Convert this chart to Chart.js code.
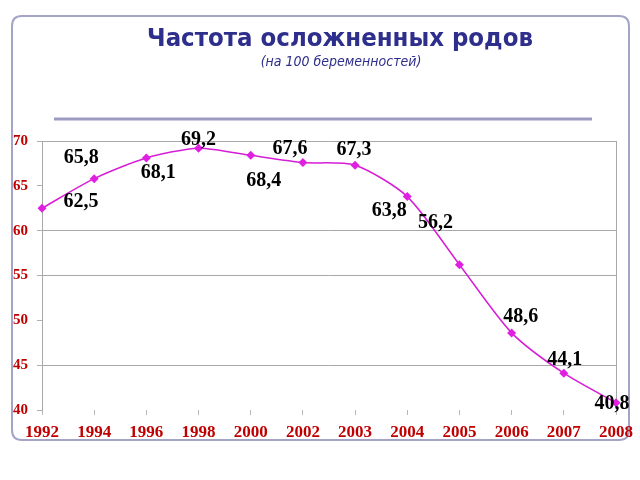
<!DOCTYPE html>
<html><head><meta charset="utf-8">
<script src="https://cdn.jsdelivr.net/npm/chart.js@4/dist/chart.umd.min.js"></script>
<style>
html,body{margin:0;padding:0;background:#fff;}
#wrap{position:relative;width:640px;height:480px;}
canvas{position:absolute;left:0;top:0;}
</style></head>
<body><div id="wrap"><canvas id="c" width="640" height="480"></canvas></div>
<script>
const years = ['1992','1994','1996','1998','2000','2002','2003','2004','2005','2006','2007','2008'];
const rates = [62.5, 65.8, 68.1, 69.2, 68.4, 67.6, 67.3, 63.8, 56.2, 48.6, 44.1, 40.8];
const valueLabels = ['62,5','65,8','68,1','69,2','68,4','67,6','67,3','63,8','56,2','48,6','44,1','40,8'];
const titleText = 'Частота осложненных родов';
const subtitleText = '(на 100 беременностей)';
const gridValues = [70, 60, 55, 45];
// label offsets (styling only)
const labelOffsets = [[39,-6],[-13,-21],[12,15],[0,-8],[13,25],[-13,-14],[-1,-15],[-18,14],[-24,-42],[9,-16],[1,-13],[-4,1]];

const decor = {
  id:'decor',
  beforeDraw(chart){
    const c = chart.ctx;
    c.save();
    c.strokeStyle = '#a4a4c6';
    c.lineWidth = 2;
    const x=12,y=16,w=617,h=424,r=10;
    c.beginPath();
    c.moveTo(x+r,y);c.lineTo(x+w-r,y);c.quadraticCurveTo(x+w,y,x+w,y+r);
    c.lineTo(x+w,y+h-r);c.quadraticCurveTo(x+w,y+h,x+w-r,y+h);
    c.lineTo(x+r,y+h);c.quadraticCurveTo(x,y+h,x,y+h-r);
    c.lineTo(x,y+r);c.quadraticCurveTo(x,y,x+r,y);
    c.stroke();
    c.strokeStyle = '#9c9cc0';
    c.lineWidth = 3;
    c.beginPath();c.moveTo(54,119);c.lineTo(592,119);c.stroke();
    c.fillStyle = '#2e2e8c';
    c.textAlign = 'center';c.textBaseline = 'middle';
    c.font = 'bold 25.5px "DejaVu Sans Condensed", "Noto Sans", sans-serif';
    c.fillText(titleText, 340, 39);
    c.font = 'italic 14px "DejaVu Sans Condensed", "Noto Sans", sans-serif';
    c.fillText(subtitleText, 341, 62);
    c.restore();
  },
  afterDatasetsDraw(chart){
    const c = chart.ctx;
    const meta = chart.getDatasetMeta(0);
    c.save();
    c.fillStyle = '#000';
    c.font = 'bold 20px "Liberation Serif", serif';
    c.textAlign = 'center';c.textBaseline = 'middle';
    meta.data.forEach((pt,i)=>{
      const o = labelOffsets[i];
      c.fillText(valueLabels[i], pt.x + o[0], pt.y + o[1]);
    });
    c.restore();
  }
};

new Chart(document.getElementById('c'), {
  type:'line',
  data:{labels:years, datasets:[{
    data:rates,
    borderColor:'#d61ed6',
    backgroundColor:'#e020e0',
    borderWidth:1.5,
    pointStyle:'rectRot',
    pointRadius:4.5,
    pointBorderWidth:0,
    tension:0.25,
    fill:false
  }]},
  options:{
    responsive:false,
    animation:false,
    events:[],
    layout:{padding:{left:12,right:8,top:141,bottom:40}},
    plugins:{legend:{display:false},tooltip:{enabled:false}},
    scales:{
      x:{
        offset:false,
        afterFit(s){ s.height = 30; },
        grid:{
          color:(ctx)=> ctx.index===years.length-1 ? '#a8a8a8' : 'rgba(0,0,0,0)',
          tickColor:'#b8b8b8',
          tickLength:5,
          drawOnChartArea:true
        },
        border:{display:false},
        ticks:{color:'#c00000', font:{family:'"Liberation Serif", serif', size:17, weight:'bold'}, padding:7, maxRotation:0, autoSkip:false}
      },
      y:{
        min:40,max:70,
        afterFit(s){ s.width = 30; },
        grid:{
          color:(ctx)=> gridValues.includes(ctx.tick && ctx.tick.value) ? '#a8a8a8' : 'rgba(0,0,0,0)',
          tickColor:'#b0b0b0',
          tickLength:5
        },
        border:{display:true,color:'#a8a8a8'},
        ticks:{stepSize:5, color:'#c00000', font:{family:'"Liberation Serif", serif', size:15, weight:'bold'}, padding:9}
      }
    }
  },
  plugins:[decor]
});
</script></body></html>
